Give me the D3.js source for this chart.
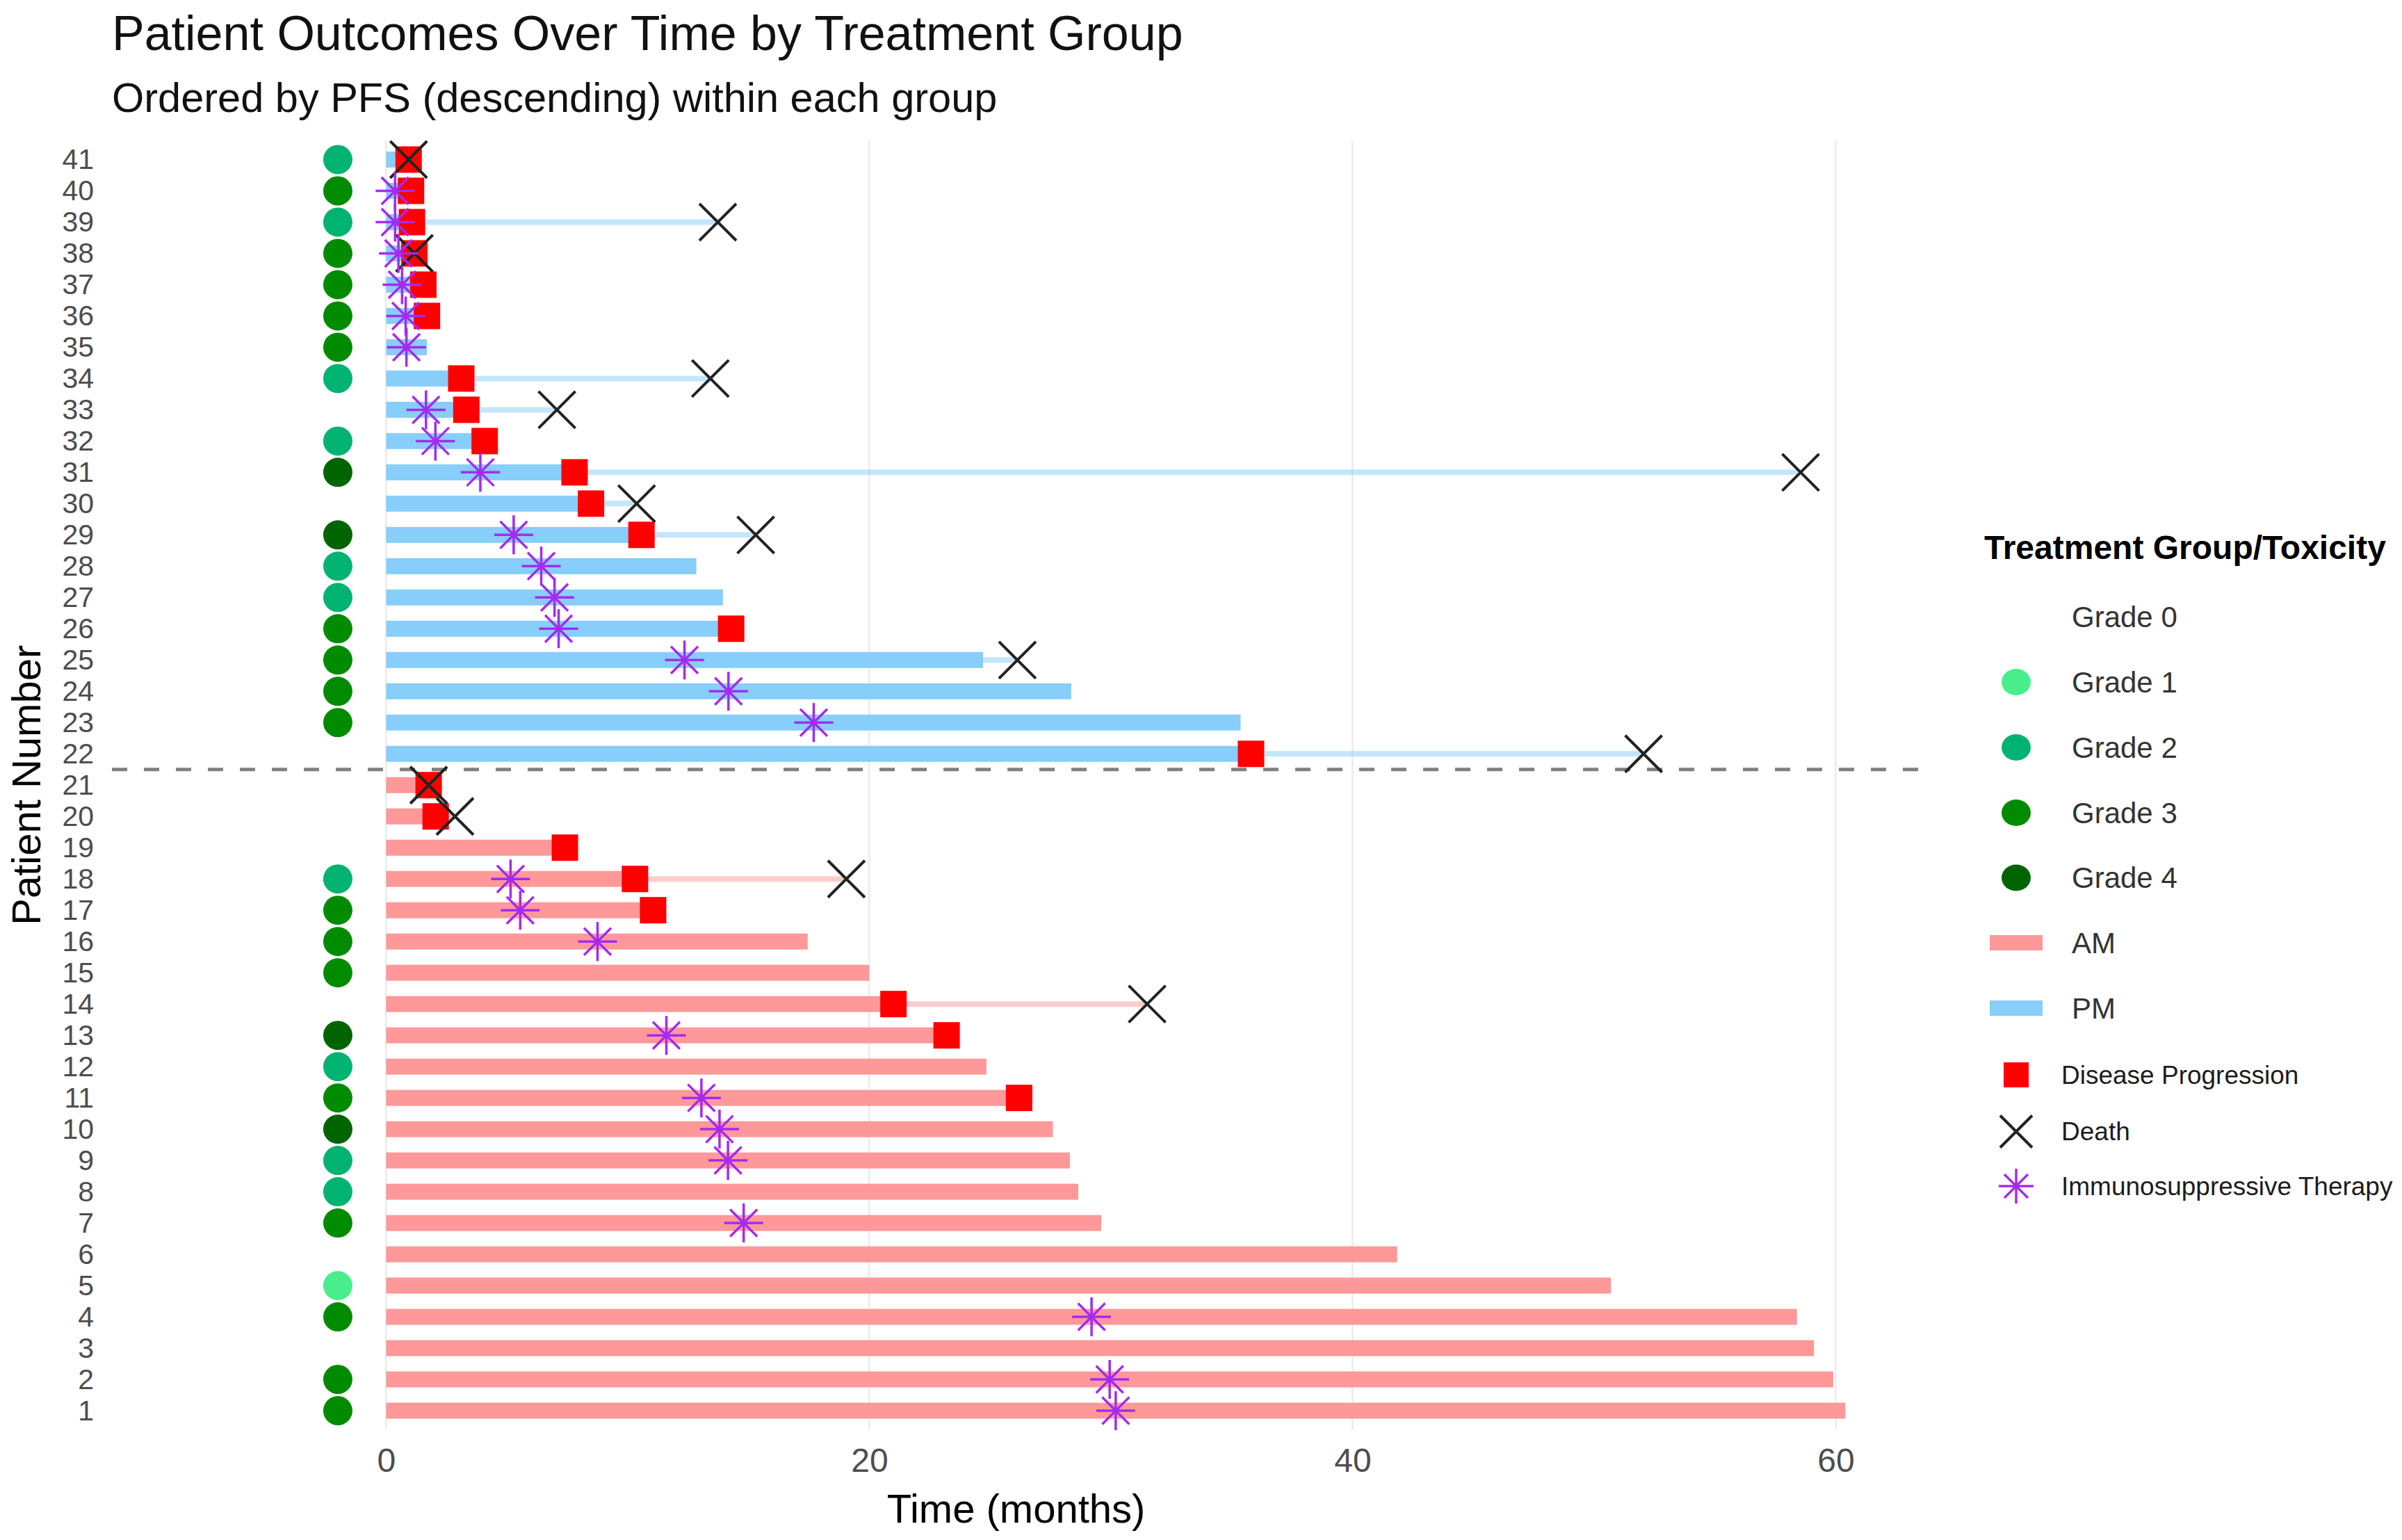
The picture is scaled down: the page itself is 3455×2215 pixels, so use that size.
<!DOCTYPE html>
<html>
<head>
<meta charset="utf-8">
<script src="https://cdn.jsdelivr.net/npm/d3@7"></script>
<style>
body { margin: 0; background: #fff; }
text { font-family: "Liberation Sans", Arial, sans-serif; }
</style>
</head>
<body>
<svg id="chart"></svg>
<script>
// patients 1-21 = AM, 22-41 = PM, ordered by PFS within group
var patients = [1,2,3,4,5,6,7,8,9,10,11,12,13,14,15,16,17,18,19,20,21,
  22,23,24,25,26,27,28,29,30,31,32,33,34,35,36,37,38,39,40,41];
var groups = ['AM','AM','AM','AM','AM','AM','AM','AM','AM','AM','AM','AM','AM','AM','AM','AM','AM','AM','AM','AM','AM',
  'PM','PM','PM','PM','PM','PM','PM','PM','PM','PM','PM','PM','PM','PM','PM','PM','PM','PM','PM','PM'];
var grade = [3,3,0,3,1,0,3,2,2,4,3,2,4,0,3,3,3,2,0,0,0,
  0,3,3,3,3,2,2,4,0,4,2,0,2,3,3,3,3,2,3,2];
var pfs = [60.4,59.9,59.1,58.4,50.7,41.85,29.6,28.65,28.3,27.6,26.2,24.85,23.2,21.0,20.0,17.45,11.05,10.3,7.4,2.05,1.76,
  35.8,35.37,28.36,24.71,14.28,13.94,12.84,10.57,8.48,7.8,4.08,3.32,3.11,1.69,1.69,1.54,1.17,1.07,1.03,0.93];
var progressed = [0,0,0,0,0,0,0,0,0,0,1,0,1,1,0,0,1,1,1,1,1,
  1,0,0,0,1,0,0,1,1,1,1,1,1,0,1,1,1,1,1,1];
var death = [null,null,null,null,null,null,null,null,null,null,null,null,null,31.5,null,null,null,19.05,null,2.85,1.76,
  52.05,null,null,26.13,null,null,null,15.3,10.37,58.55,null,7.07,13.42,null,null,null,1.17,13.73,null,0.93];
var ist = [30.2,29.95,null,29.2,null,null,14.8,null,14.15,13.8,13.05,null,11.6,null,null,8.75,5.55,5.15,null,null,null,
  null,17.7,14.17,12.35,7.14,6.97,6.42,5.28,null,3.9,2.04,1.65,null,0.84,0.81,0.66,0.51,0.37,0.37,null];
var xTicks = [0,20,40,60];
var gradeLabels = ['Grade 0','Grade 1','Grade 2','Grade 3','Grade 4'];
var groupLabels = ['AM','PM'];
var eventLabels = ['Disease Progression','Death','Immunosuppressive Therapy'];

var gradeColors = [null,'#48EE8C','#00B371','#008B00','#006400'];
var groupColors = {AM: '#FF9999', PM: '#87CEFA'};
var toxX = -2; // toxicity dots sit left of time zero

var width = 3455, height = 2215;
var rows = patients.map(function (p, i) {
  return {id: p, group: groups[i], grade: grade[i], pfs: pfs[i],
    prog: progressed[i], death: death[i], ist: ist[i]};
});

var svg = d3.select('#chart')
  .attr('width', width)
  .attr('height', height);

var x = d3.scaleLinear().domain([-11.35, 63.5]).range([161, 2762]);
var y = d3.scaleLinear().domain([0.4, 41.6]).range([2056, 202.5]);

// titles
svg.append('text').attr('x', 161).attr('y', 72)
  .attr('font-size', 70).attr('fill', '#111')
  .text('Patient Outcomes Over Time by Treatment Group');
svg.append('text').attr('x', 161).attr('y', 161)
  .attr('font-size', 59.5).attr('fill', '#111')
  .text('Ordered by PFS (descending) within each group');

// grid
svg.append('g').selectAll('line')
  .data(xTicks)
  .enter()
  .append('line')
  .attr('x1', function (d) { return x(d); })
  .attr('x2', function (d) { return x(d); })
  .attr('y1', y.range()[1])
  .attr('y2', y.range()[0])
  .attr('stroke', '#EBEBEB')
  .attr('stroke-width', 2.5);

// axes
var xAxis = svg.append('g')
  .attr('transform', 'translate(0,' + y.range()[0] + ')')
  .call(d3.axisBottom(x).tickValues(xTicks).tickSize(0).tickPadding(27));
xAxis.select('.domain').remove();
xAxis.selectAll('text').attr('font-size', 48).attr('fill', '#4D4D4D')
  .attr('font-family', '"Liberation Sans", Arial, sans-serif');

var yAxis = svg.append('g')
  .attr('transform', 'translate(' + x.range()[0] + ',0)')
  .call(d3.axisLeft(y).tickValues(patients).tickFormat(d3.format('d')).tickSize(0).tickPadding(26));
yAxis.select('.domain').remove();
yAxis.selectAll('text').attr('font-size', 41).attr('fill', '#4D4D4D')
  .attr('font-family', '"Liberation Sans", Arial, sans-serif');

svg.append('text')
  .attr('x', (x.range()[0] + x.range()[1]) / 2).attr('y', 2190)
  .attr('text-anchor', 'middle').attr('font-size', 58).attr('fill', '#000')
  .text('Time (months)');
svg.append('text')
  .attr('transform', 'translate(58,' + (y.range()[0] + y.range()[1]) / 2 + ') rotate(-90)')
  .attr('text-anchor', 'middle').attr('font-size', 58).attr('fill', '#000')
  .text('Patient Number');

// thin follow-up line to death
svg.append('g').selectAll('line')
  .data(rows.filter(function (d) { return d.death != null; }))
  .enter()
  .append('line')
  .attr('x1', x(0))
  .attr('x2', function (d) { return x(d.death); })
  .attr('y1', function (d) { return y(d.id); })
  .attr('y2', function (d) { return y(d.id); })
  .attr('stroke', function (d) { return groupColors[d.group]; })
  .attr('stroke-opacity', 0.5)
  .attr('stroke-width', 8);

// PFS bars
var barH = 23;
svg.append('g').selectAll('rect')
  .data(rows)
  .enter()
  .append('rect')
  .attr('x', x(0))
  .attr('y', function (d) { return y(d.id) - barH / 2; })
  .attr('width', function (d) { return x(d.pfs) - x(0); })
  .attr('height', barH)
  .attr('fill', function (d) { return groupColors[d.group]; });

// group divider
svg.append('line')
  .attr('x1', x.range()[0]).attr('x2', x.range()[1])
  .attr('y1', y(21.5)).attr('y2', y(21.5))
  .attr('stroke', '#808080').attr('stroke-width', 5)
  .attr('stroke-dasharray', '22,24');

// toxicity dots
svg.append('g').selectAll('circle')
  .data(rows.filter(function (d) { return d.grade > 0; }))
  .enter()
  .append('circle')
  .attr('cx', x(toxX))
  .attr('cy', function (d) { return y(d.id); })
  .attr('r', 21)
  .attr('fill', function (d) { return gradeColors[d.grade]; });

// progression squares
var sq = 38;
svg.append('g').selectAll('rect')
  .data(rows.filter(function (d) { return d.prog; }))
  .enter()
  .append('rect')
  .attr('x', function (d) { return x(d.pfs) - sq / 2; })
  .attr('y', function (d) { return y(d.id) - sq / 2; })
  .attr('width', sq).attr('height', sq)
  .attr('fill', '#FF0000');

var crossPath = function (r) {
  return 'M' + -r + ',' + -r + 'L' + r + ',' + r + 'M' + -r + ',' + r + 'L' + r + ',' + -r;
};
var starPath = function (r, d) {
  return 'M0,' + -r + 'V' + r + 'M' + -r + ',0H' + r +
    'M' + -d + ',' + -d + 'L' + d + ',' + d + 'M' + -d + ',' + d + 'L' + d + ',' + -d;
};

// deaths
svg.append('g').selectAll('path')
  .data(rows.filter(function (d) { return d.death != null; }))
  .enter()
  .append('path')
  .attr('transform', function (d) { return 'translate(' + x(d.death) + ',' + y(d.id) + ')'; })
  .attr('d', crossPath(26.5))
  .attr('fill', 'none').attr('stroke', '#222').attr('stroke-width', 4);

// immunosuppressive therapy
svg.append('g').selectAll('path')
  .data(rows.filter(function (d) { return d.ist != null; }))
  .enter()
  .append('path')
  .attr('transform', function (d) { return 'translate(' + x(d.ist) + ',' + y(d.id) + ')'; })
  .attr('d', starPath(28, 19.5))
  .attr('fill', 'none').attr('stroke', '#A52AF0').attr('stroke-width', 3.5);

// legend
var lg = svg.append('g');
var keyX = 2900;
lg.append('text').attr('x', 2854).attr('y', 804)
  .attr('font-size', 48).attr('font-weight', 'bold').attr('fill', '#000')
  .text('Treatment Group/Toxicity');

var gradeY = [887, 981, 1075, 1169, 1262.5];
gradeLabels.forEach(function (g, i) {
  if (gradeColors[i]) {
    lg.append('ellipse').attr('cx', keyX).attr('cy', gradeY[i])
      .attr('rx', 21).attr('ry', 19).attr('fill', gradeColors[i]);
  }
  lg.append('text').attr('x', 2980).attr('y', gradeY[i]).attr('dy', '0.35em')
    .attr('font-size', 42).attr('fill', '#333').text(g);
});

var groupY = [1356, 1450];
groupLabels.forEach(function (g, i) {
  lg.append('rect').attr('x', keyX - 38).attr('y', groupY[i] - 11)
    .attr('width', 76).attr('height', 22).attr('fill', groupColors[g]);
  lg.append('text').attr('x', 2980).attr('y', groupY[i]).attr('dy', '0.35em')
    .attr('font-size', 42).attr('fill', '#333').text(g);
});

var eventY = [1546, 1627.5, 1706];
lg.append('rect').attr('x', keyX - 18).attr('y', eventY[0] - 18)
  .attr('width', 36).attr('height', 36).attr('fill', '#FF0000');
lg.append('path').attr('transform', 'translate(' + keyX + ',' + eventY[1] + ')')
  .attr('d', crossPath(23)).attr('fill', 'none').attr('stroke', '#222').attr('stroke-width', 4);
lg.append('path').attr('transform', 'translate(' + keyX + ',' + eventY[2] + ')')
  .attr('d', starPath(25, 17)).attr('fill', 'none').attr('stroke', '#A52AF0').attr('stroke-width', 3.5);
eventLabels.forEach(function (t, i) {
  lg.append('text').attr('x', 2965).attr('y', eventY[i]).attr('dy', '0.35em')
    .attr('font-size', 37).attr('fill', '#1c1c1c').text(t);
});
</script>
</body>
</html>
